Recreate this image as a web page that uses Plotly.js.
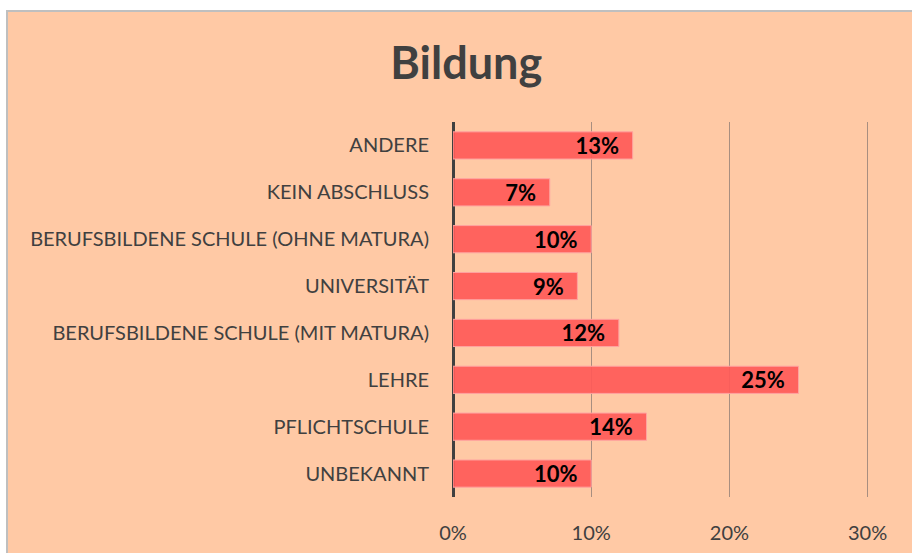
<!DOCTYPE html>
<html>
<head>
<meta charset="utf-8">
<script src="https://cdn.plot.ly/plotly-3.0.1.min.js"></script>
<style>
  html, body { margin: 0; padding: 0; background: #ffffff; width: 912px; height: 553px; overflow: hidden; }
  #frame { position: absolute; left: 6px; top: 10px; width: 906px; height: 543px; box-sizing: border-box;
           border-left: 2px solid #BFBFBF; border-top: 2px solid #BFBFBF; background: #FFC9A5; }
  #chart { width: 904px; height: 541px; }
</style>
</head>
<body>
<div id="frame"><div id="chart"></div></div>
<script>
const categories = [
  "ANDERE",
  "KEIN ABSCHLUSS",
  "BERUFSBILDENE SCHULE (OHNE MATURA)",
  "UNIVERSITÄT",
  "BERUFSBILDENE SCHULE (MIT MATURA)",
  "LEHRE",
  "PFLICHTSCHULE",
  "UNBEKANNT"
];
const values = [0.13, 0.07, 0.10, 0.09, 0.12, 0.25, 0.14, 0.10];
const tickValues = [0, 0.1, 0.2, 0.3];
const tickLabels = ["0%", "10%", "20%", "30%"];
const chartTitle = "Bildung";

const font = "Lato, 'Open Sans', sans-serif";

const trace = {
  type: "bar",
  orientation: "h",
  y: categories,
  x: values,
  width: 0.58,
  marker: { color: "rgba(255,90,88,0.92)", line: { color: "#FFA3A0", width: 1 } },
  texttemplate: "%{x:.0%}\u00a0\u00a0",
  textposition: "inside",
  insidetextanchor: "end",
  constraintext: "none",
  textangle: 0,
  textfont: { family: font, size: 22, color: "#000000", weight: 700 },
  cliponaxis: false,
  hoverinfo: "skip"
};

const layout = {
  width: 904, height: 541,
  paper_bgcolor: "#FFC9A5",
  plot_bgcolor: "#FFC9A5",
  margin: { l: 445, r: 43, t: 110, b: 56, pad: 0 },
  showlegend: false,
  title: { text: "<b>" + chartTitle + "</b>", font: { family: font, size: 45, color: "#404040" },
           x: 0.507, xanchor: "center", xref: "container", y: 0.905, yanchor: "middle", yref: "container" },
  xaxis: {
    range: [0, 0.301],
    tickvals: tickValues, ticktext: tickLabels,
    showgrid: true, gridcolor: "#A88E80", gridwidth: 1,
    zeroline: true, zerolinecolor: "#404040", zerolinewidth: 3,
    showline: false,
    ticks: "outside", ticklen: 18, tickcolor: "rgba(0,0,0,0)",
    tickfont: { family: font, size: 20, color: "#404040" },
    fixedrange: true
  },
  yaxis: {
    type: "category",
    categoryorder: "array", categoryarray: categories,
    autorange: "reversed",
    showgrid: false, zeroline: false, showline: false,
    ticks: "outside", ticklen: 19, tickcolor: "rgba(0,0,0,0)",
    tickfont: { family: font, size: 20, color: "#404040" },
    fixedrange: true
  },
  bargap: 0.42
};

Plotly.newPlot("chart", [trace], layout, { displayModeBar: false, staticPlot: true });
</script>
</body>
</html>
